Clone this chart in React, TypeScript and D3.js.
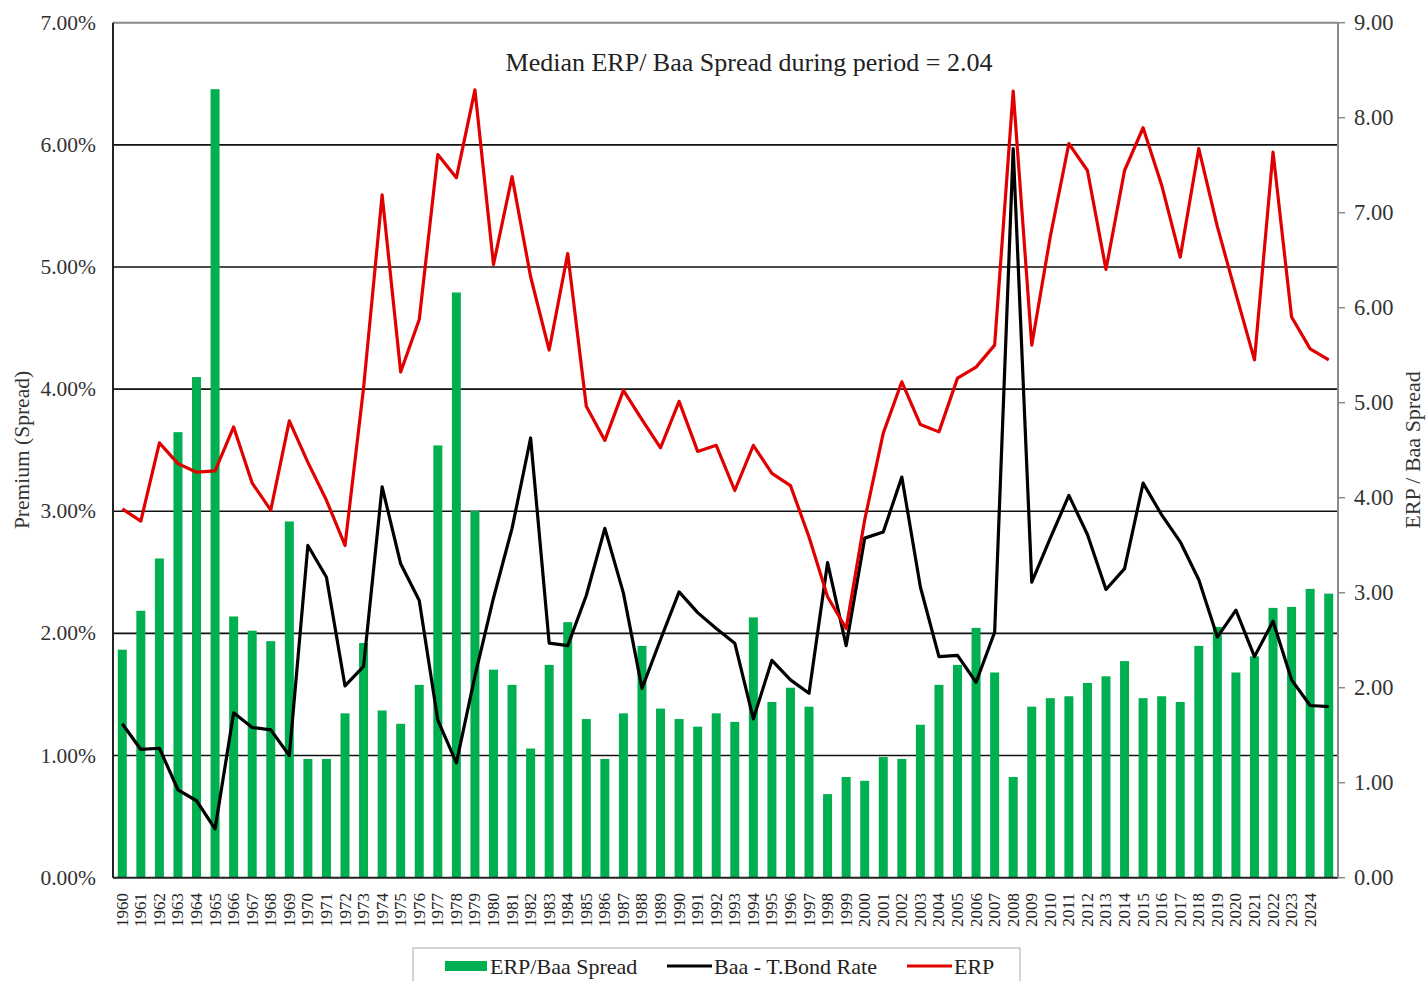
import React from "react";
import * as d3 from "d3";

const years: string[] = [
  "1960","1961","1962","1963","1964","1965","1966","1967","1968","1969",
  "1970","1971","1972","1973","1974","1975","1976","1977","1978","1979",
  "1980","1981","1982","1983","1984","1985","1986","1987","1988","1989",
  "1990","1991","1992","1993","1994","1995","1996","1997","1998","1999",
  "2000","2001","2002","2003","2004","2005","2006","2007","2008","2009",
  "2010","2011","2012","2013","2014","2015","2016","2017","2018","2019",
  "2020","2021","2022","2023","2024","",
];

// ERP / Baa spread ratio (right axis)
const ratio: number[] = [
  2.40, 2.81, 3.36, 4.69, 5.27, 8.30, 2.75, 2.60, 2.49, 3.75,
  1.25, 1.25, 1.73, 2.47, 1.76, 1.62, 2.03, 4.55, 6.16, 3.86,
  2.19, 2.03, 1.36, 2.24, 2.69, 1.67, 1.25, 1.73, 2.44, 1.78,
  1.67, 1.59, 1.73, 1.64, 2.74, 1.85, 2.00, 1.80, 0.88, 1.06,
  1.02, 1.27, 1.25, 1.61, 2.03, 2.24, 2.63, 2.16, 1.06, 1.80,
  1.89, 1.91, 2.05, 2.12, 2.28, 1.89, 1.91, 1.85, 2.44, 2.64,
  2.16, 2.33, 2.84, 2.85, 3.04, 2.99,
];

// Baa - T.Bond rate (%)
const baaSpread: number[] = [
  1.26, 1.05, 1.06, 0.72, 0.63, 0.40, 1.35, 1.23, 1.21, 1.00,
  2.72, 2.46, 1.57, 1.73, 3.20, 2.57, 2.27, 1.29, 0.94, 1.65,
  2.29, 2.86, 3.60, 1.92, 1.90, 2.31, 2.86, 2.33, 1.55, 1.95,
  2.34, 2.17, 2.04, 1.92, 1.30, 1.78, 1.62, 1.51, 2.58, 1.90,
  2.78, 2.83, 3.28, 2.38, 1.81, 1.82, 1.60, 2.01, 5.97, 2.42,
  2.78, 3.13, 2.81, 2.36, 2.53, 3.23, 2.97, 2.75, 2.44, 1.97,
  2.19, 1.81, 2.10, 1.62, 1.41, 1.40,
];

// ERP (%)
const erp: number[] = [
  3.02, 2.92, 3.56, 3.39, 3.32, 3.33, 3.69, 3.23, 3.01, 3.74,
  3.40, 3.09, 2.72, 4.01, 5.59, 4.14, 4.57, 5.92, 5.73, 6.45,
  5.02, 5.74, 4.92, 4.32, 5.11, 3.86, 3.58, 3.99, 3.75, 3.52,
  3.90, 3.49, 3.54, 3.17, 3.54, 3.31, 3.21, 2.79, 2.30, 2.04,
  2.93, 3.64, 4.06, 3.71, 3.65, 4.09, 4.18, 4.36, 6.44, 4.36,
  5.25, 6.01, 5.79, 4.98, 5.79, 6.14, 5.67, 5.08, 5.97, 5.33,
  4.78, 4.24, 5.94, 4.59, 4.33, 4.24,
];

const leftTicks: number[] = [0, 1, 2, 3, 4, 5, 6, 7];
const rightTicks: number[] = [0, 1, 2, 3, 4, 5, 6, 7, 8, 9];
const titleText = "Median ERP/ Baa Spread during period = 2.04";
const legendLabels = ["ERP/Baa Spread", "Baa - T.Bond Rate", "ERP"];

const W = 1427;
const H = 981;
const L = 113;
const R = 1338;
const T = 22.7;
const B = 877.7;
const FONT = "'Liberation Serif', 'Times New Roman', serif";
const GREEN = "#00B050";
const RED = "#E00000";

export default function App() {
  const idx = years.map((_, i) => i);
  const x = d3.scaleBand<number>().domain(idx).range([L, R]).paddingInner(0.515).paddingOuter(0.2575);
  const cx = (i: number) => (x(i) as number) + x.bandwidth() / 2;
  const yL = d3.scaleLinear().domain([0, 7]).range([B, T]);
  const yR = d3.scaleLinear().domain([0, 9]).range([B, T]);

  const lineBaa = d3.line<number>().x((_, i) => cx(i)).y((d) => yL(d));
  const lineErp = d3.line<number>().x((_, i) => cx(i)).y((d) => yL(d));

  return (
    <svg width={W} height={H} style={{ position: "absolute", left: 0, top: 0, background: "#fff" }} fontFamily={FONT}>
      <rect x={0} y={0} width={W} height={H} fill="#fff" />
      {leftTicks.filter((t) => t > 0 && t < 7).map((t) => (
        <line key={"g" + t} x1={L} x2={R} y1={yL(t)} y2={yL(t)} stroke="#111" strokeWidth={1.6} />
      ))}
      <line x1={L} x2={R} y1={yL(7)} y2={yL(7)} stroke="#8a8a8a" strokeWidth={2} />
      {ratio.map((v, i) => (
        <rect key={"b" + i} x={x(i)} y={yR(v)} width={x.bandwidth()} height={B - yR(v)} fill={GREEN} />
      ))}
      <path d={lineBaa(baaSpread) || ""} fill="none" stroke="#000" strokeWidth={3.2} strokeLinejoin="round" />
      <path d={lineErp(erp) || ""} fill="none" stroke={RED} strokeWidth={3.2} strokeLinejoin="round" />
      <line x1={L} x2={L} y1={T} y2={B} stroke="#222" strokeWidth={2} />
      <line x1={L} x2={R} y1={B} y2={B} stroke="#222" strokeWidth={2} />
      <line x1={R} x2={R} y1={T} y2={B} stroke="#8a8a8a" strokeWidth={2} />
      {rightTicks.map((t) => (
        <line key={"rt" + t} x1={R} x2={R + 7} y1={yR(t)} y2={yR(t)} stroke="#8a8a8a" strokeWidth={1.5} />
      ))}
      {leftTicks.map((t) => (
        <text key={"lt" + t} x={96} y={yL(t)} textAnchor="end" dominantBaseline="central" fontSize={21.5} fill="#333">
          {t.toFixed(2) + "%"}
        </text>
      ))}
      {rightTicks.map((t) => (
        <text key={"rl" + t} x={1354} y={yR(t)} textAnchor="start" dominantBaseline="central" fontSize={22.5} fill="#333">
          {t.toFixed(2)}
        </text>
      ))}
      {years.map((yv, i) => (
        <text key={"xl" + i} transform={`translate(${cx(i)},893) rotate(-90)`} textAnchor="end" dominantBaseline="central" fontSize={17} fill="#222">
          {yv}
        </text>
      ))}
      <text transform={`translate(22,450) rotate(-90)`} textAnchor="middle" dominantBaseline="central" fontSize={21.5} fill="#333">
        Premium (Spread)
      </text>
      <text transform={`translate(1412,450) rotate(-90)`} textAnchor="middle" dominantBaseline="central" fontSize={22} fill="#333">
        ERP / Baa Spread
      </text>
      <text x={749} y={62} textAnchor="middle" dominantBaseline="central" fontSize={26} fill="#222">
        {titleText}
      </text>
      <rect x={413} y={948} width={607} height={45} fill="#fff" stroke="#aaa" strokeWidth={1} />
      <rect x={445} y={961} width={42} height={10} fill={GREEN} />
      <text x={490} y={966} dominantBaseline="central" fontSize={22} fill="#222">{legendLabels[0]}</text>
      <line x1={667} x2={712} y1={966} y2={966} stroke="#000" strokeWidth={3} />
      <text x={714} y={966} dominantBaseline="central" fontSize={22} fill="#222">{legendLabels[1]}</text>
      <line x1={907} x2={952} y1={966} y2={966} stroke={RED} strokeWidth={3} />
      <text x={954} y={966} dominantBaseline="central" fontSize={22} fill="#222">{legendLabels[2]}</text>
    </svg>
  );
}
